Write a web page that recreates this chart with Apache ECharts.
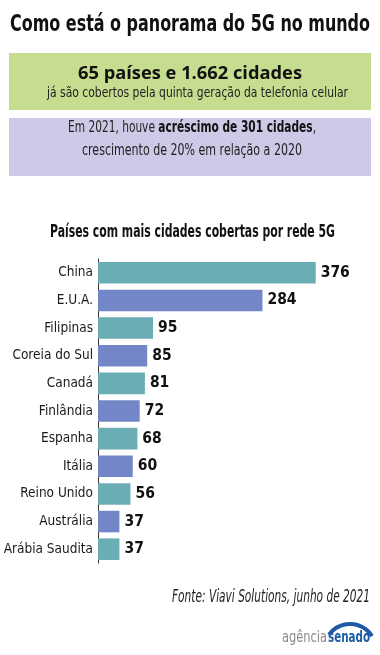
<!DOCTYPE html>
<html><head><meta charset="utf-8">
<script src="https://cdn.jsdelivr.net/npm/echarts@6/dist/echarts.min.js"></script>
<style>html,body{margin:0;padding:0;background:#fff}#c{width:380px;height:655px}</style>
</head><body><div id="c"></div>
<script>
const categories = ["China","E.U.A.","Filipinas","Coreia do Sul","Canadá","Finlândia","Espanha","Itália","Reino Unido","Austrália","Arábia Saudita"];
const values = [376,284,95,85,81,72,68,60,56,37,37];
const barColors = ["#6aadb4","#7387c8"];
const NARROW = "'DejaVu Sans Condensed','Liberation Sans Narrow',sans-serif";

const mctx = document.createElement('canvas').getContext('2d');
function tw(text, size, weight, family, style){
  mctx.font = (style||'normal')+' '+(weight||'normal')+' '+size+'px '+family;
  return mctx.measureText(text).width;
}
function fitText(text, opts){
  const w = tw(text, opts.size, opts.weight, opts.family, opts.fontStyle);
  const s = opts.width / w;
  return {type:'text', x:opts.x, y:opts.base - 0.35*opts.size, scaleX:s,
    style:{text:text, fontFamily:opts.family, fontSize:opts.size, fontWeight:opts.weight||'normal', fontStyle:opts.fontStyle||'normal',
      fill:opts.fill||'#111', align:opts.align||'center', verticalAlign:'middle'}};
}

const p1a='Em 2021, houve ', p1b='acréscimo de 301 cidades', p1c=',';
const PS=15;
const wa=tw(p1a,PS,'normal',NARROW), wb=tw(p1b,PS,'bold',NARROW), wc=tw(p1c,PS,'normal',NARROW);
const s1 = 248/(wa+wb+wc);

const chart = echarts.init(document.getElementById('c'), null, {renderer:'canvas'});
chart.setOption({
  animation:false,
  backgroundColor:'#fff',
  grid:{left:98, right:50.4, top:259, height:304, containLabel:false, outerBoundsMode:'none'},
  xAxis:{type:'value', min:0, max:400, show:false},
  yAxis:{type:'category', inverse:true, data:categories,
    axisLine:{show:true, lineStyle:{color:'#333', width:1}},
    axisTick:{show:false},
    axisLabel:{fontFamily:NARROW, fontSize:13.5, color:'#1a1a1a', margin:5}},
  series:[{type:'bar', data:values.map((v,i)=>({value:v, itemStyle:{color:barColors[i%2]}})),
    barCategoryGap:'22%',
    label:{show:true, position:'right', distance:5, fontFamily:NARROW, fontWeight:'bold', fontSize:15.5, color:'#111'}}],
  graphic:[
    fitText('Como está o panorama do 5G no mundo',{x:190, base:33.5, size:23, weight:'bold', family:NARROW, width:360}),
    {type:'rect', shape:{x:9, y:53, width:362, height:57}, style:{fill:'#c6dc8e'}},
    fitText('65 países e 1.662 cidades',{x:190, base:80, size:18, weight:'bold', family:"'Open Sans',sans-serif", width:224}),
    fitText('já são cobertos pela quinta geração da telefonia celular',{x:197.5, base:98.5, size:14, family:NARROW, width:301, fill:'#222'}),
    {type:'rect', shape:{x:9, y:118, width:362, height:58}, style:{fill:'#cdc9e6'}},
    {type:'text', x:68, y:133.5-0.35*PS, scaleX:s1, style:{rich:{n:{fontFamily:NARROW, fontSize:PS, fill:'#222'}, b:{fontFamily:NARROW, fontSize:PS, fontWeight:'bold', fill:'#111'}}, text:'{n|'+p1a+'}{b|'+p1b+'}{n|'+p1c+'}', align:'left', verticalAlign:'middle'}},
    fitText('crescimento de 20% em relação a 2020',{x:192, base:156.5, size:PS, family:NARROW, width:220, fill:'#222'}),
    fitText('Países com mais cidades cobertas por rede 5G',{x:192.5, base:238.5, size:17, weight:'bold', family:NARROW, width:285}),
    fitText('Fonte: Viavi Solutions, junho de 2021',{x:370, base:603.5, size:17, fontStyle:'italic', family:NARROW, width:198, align:'right', fill:'#222'}),
    {type:'arc', shape:{cx:350, cy:650, r:26, startAngle:Math.PI*1.2, endAngle:Math.PI*1.82}, style:{stroke:'#1d5ba6', lineWidth:4, fill:null}},
    fitText('agência',{x:282, base:643, size:16, family:"'DejaVu Sans',sans-serif", width:45, align:'left', fill:'#8a8a8a'}),
    fitText('senado',{x:328, base:643, size:16, weight:'bold', family:"'DejaVu Sans',sans-serif", width:42, align:'left', fill:'#1d5ba6'})
  ]
});
</script></body></html>
